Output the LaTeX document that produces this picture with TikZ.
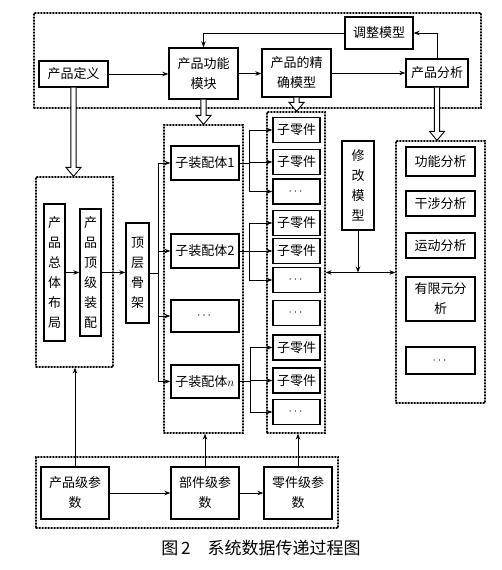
\documentclass[tikz,border=0pt]{standalone}
\usepackage{amsmath,amssymb}
\usepackage{fontspec}
\setmainfont{Noto Sans CJK SC}
\usepackage{tikz}
\usetikzlibrary{positioning,arrows.meta,calc}
\tikzset{
  >={Stealth[length=6pt,width=4.5pt]},
  vec/.style   ={line width=1pt, ->},
  grp/.style   ={draw, line width=1.2pt, dash pattern=on 1.2pt off 1.8pt},
}
% hollow block arrow, pointing down from #1 to #2
\newcommand{\fatarrow}[2]{%
  \draw[line width=0.9pt, fill=white, line join=miter]
    ($(#1)+(-2.6,0)$) -- ($(#2)+(-2.6,-9)$) -- ($(#2)+(-7.5,-9)$) -- (#2)
    -- ($(#2)+(7.5,-9)$) -- ($(#2)+(2.6,-9)$) -- ($(#1)+(2.6,0)$);}

\begin{document}
\begin{tikzpicture}[x=1pt, y=-1pt, line cap=round,
  box/.style={draw, line width=1.3pt, inner sep=0pt, align=center,
    font=\fontsize{13}{20}\selectfont},
  tall/.style={box, text width=13pt},
  part/.style={box, minimum width=47, minimum height=25},
  ana/.style={box, minimum width=69}
]
\useasboundingbox (0,0) rectangle (501,570);

%--- Dotted groups ---
\node[grp, minimum width=447, minimum height=95]  (grpT)  at (257.5,60.5) {};
\node[grp, minimum width=77,  minimum height=190] (grpL)  at (74.5,272) {};
\node[grp, minimum width=79,  minimum height=308] (grpS)  at (203.5,279) {};
\node[grp, minimum width=58,  minimum height=321] (grpP)  at (296,272.5) {};
\node[grp, minimum width=89,  minimum height=262] (grpA)  at (440.5,272) {};
\node[grp, minimum width=302, minimum height=71]  (grpB)  at (187,492.5) {};

%--- Top row ---
\node[box, minimum width=69, minimum height=26] (def)    at (73.5,74)  {产品定义};
\node[box, minimum width=69, minimum height=51] (func)   at (203.5,73.5) {产品功能\\模块};
\node[box, minimum width=69, minimum height=48] (exact)  at (296.5,73) {产品的精\\确模型};
\node[box, minimum width=68, minimum height=32] (adjust) at (379,33)   {调整模型};
\node[box, minimum width=62, minimum height=28] (anal)   at (437,73)   {产品分析};

\draw[vec] (def.east) -- (def.east -| func.west);
\draw[vec] (func.east) -- (func.east -| exact.west);
\draw[vec] (exact.east) -- (exact.east -| anal.west);
\draw[vec] (anal.north) |- (adjust.east);
\draw[vec] (adjust.west) -| (func.north);

%--- Layout and skeleton ---
\node[tall, minimum width=21, minimum height=137] (layout) at (54.5,272.5) {产\\品\\总\\体\\布\\局};
\node[tall, minimum width=21, minimum height=127] (topasm) at (90.5,272.5) {产\\品\\顶\\级\\装\\配};
\node[tall, minimum width=23, minimum height=100] (skel) at (137.5,273) {顶\\层\\骨\\架};

\draw[vec] (layout.east) -- (layout.east -| topasm.west);
\draw[vec] (topasm.east) -- (topasm.east -| skel.west);

%--- Sub-assemblies ---
\node[box, minimum width=68, minimum height=34] (sa1) at (205,163)   {子装配体1};
\node[box, minimum width=68, minimum height=34] (sa2) at (205,251)   {子装配体2};
\node[box, minimum width=68, minimum height=32] (sad) at (205,316)   {$\cdots$};
\node[box, minimum width=68, minimum height=33] (san) at (205,381.5) {子装配体$n$};

\coordinate (busS) at ($(skel.east)+(9,0)$);
\draw[line width=1pt] (skel.east) -- (busS);
\foreach \s in {sa1,sa2,sad,san}
  \draw[vec] (busS) |- (\s.west);

%--- Parts ---
\node[part] (p11) at (296.5,130)   {子零件};
\node[part] (p12) at (296.5,162)   {子零件};
\node[part] (p13) at (296.5,191.5) {$\cdots$};
\node[part] (p21) at (296.5,223)   {子零件};
\node[part] (p22) at (296.5,251)   {子零件};
\node[part] (p23) at (296.5,280)   {$\cdots$};
\node[part] (pd)  at (296.5,313)   {$\cdots$};
\node[part] (pn1) at (296.5,347.5) {子零件};
\node[part] (pn2) at (296.5,380.5) {子零件};
\node[part] (pn3) at (296.5,412)   {$\cdots$};

\draw[line width=1pt] (sa1.east) -- ++(10,0) coordinate (b1);
\draw[line width=1pt] (sa2.east) -- ++(10,0) coordinate (b2);
\draw[line width=1pt] (san.east) -- ++(11,0) coordinate (bn);
\foreach \p in {p11,p12,p13} \draw[vec] (b1) |- (\p.west);
\foreach \p in {p21,p22,p23} \draw[vec] (b2) |- (\p.west);
\foreach \p in {pn1,pn2,pn3} \draw[vec] (bn) |- (\p.west);

%--- Modify model and analyses ---
\node[tall, minimum width=32, minimum height=89] (modify) at (358,185.5) {修\\改\\模\\型};

\node[ana, minimum height=29] (a1) at (440.5,161.5) {功能分析};
\node[ana, minimum height=25] (a2) at (440.5,203.5) {干涉分析};
\node[ana, minimum height=25] (a3) at (440.5,245.5) {运动分析};
\node[ana, minimum height=44] (a4) at (440.5,299)   {有限元分\\析};
\node[ana, minimum height=27] (a5) at (440.5,360.5) {$\cdots$};

\coordinate (jn) at (modify.south |- grpP.east);
\draw[vec] (modify.south) -- (jn);
\draw[vec, <->] (grpP.east) -- (grpP.east -| grpA.west);

%--- Parameters ---
\node[box, minimum width=68, minimum height=52] (pp) at (75,493)  {产品级参\\数};
\node[box, minimum width=68, minimum height=52] (cp) at (205,493) {部件级参\\数};
\node[box, minimum width=68, minimum height=52] (zp) at (298,493) {零件级参\\数};

\draw[vec] (pp.east) -- (cp.west);
\draw[vec] (cp.east) -- (zp.west);
\draw[vec] (pp.north) -- (pp.north |- grpL.south);
\draw[vec] (cp.north) -- (cp.north |- grpS.south);
\draw[vec] (zp.north) -- (zp.north |- grpP.south);

%--- Hollow arrows ---
\coordinate (h1) at (def.south |- grpL.north);
\coordinate (h2) at (func.south |- grpS.north);
\coordinate (h3) at (exact.south |- grpP.north);
\coordinate (h4) at (anal.south |- grpA.north);
\fatarrow{def.south}{h1}
\fatarrow{func.south}{h2}
\fatarrow{exact.south}{h3}
\fatarrow{anal.south}{h4}

% Caption
\node[font=\fontsize{17}{20}\selectfont] (cap) at (261,548) {图\,2\quad 系统数据传递过程图};

\end{tikzpicture}
\end{document}
